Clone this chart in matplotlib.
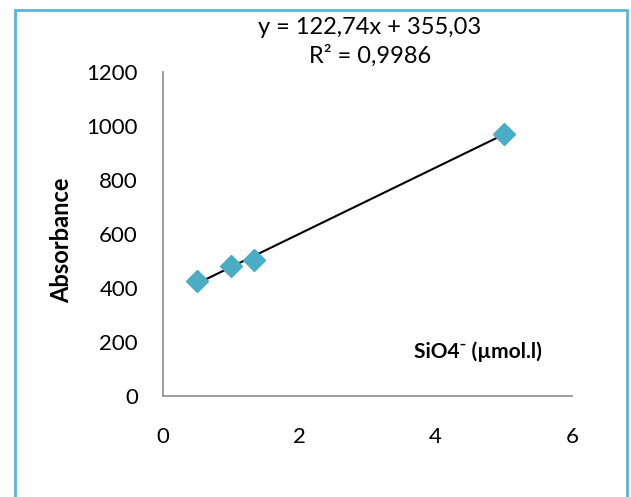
import matplotlib.pyplot as plt
import numpy as np
from matplotlib.patches import Rectangle

plt.rcParams['font.family'] = ['Lato', 'DejaVu Sans']

# data
conc = [0.5, 1.0, 1.33, 5.0]
absorb = [425, 480, 503, 970]
slope, intercept = 122.74, 355.03
xticks = [0, 2, 4, 6]
yticks = [0, 200, 400, 600, 800, 1000, 1200]

fig = plt.figure(figsize=(6.31, 4.97), dpi=100)
ax = fig.add_axes([163/631, 1 - 396/497, (572-163)/631, (396-72)/497])

# frame around the whole chart
fig.patches.append(Rectangle((15/631, -0.05), (627-15)/631, 1.05 - 10/497,
                             transform=fig.transFigure, fill=False,
                             edgecolor='#5ab4d2', linewidth=2))

fit_x = np.array([min(conc), max(conc)])
ax.plot(fit_x, slope*fit_x + intercept, color='black', lw=1.5, zorder=2)
ax.plot(conc, absorb, 'D', color='#4bacc6', markersize=11, zorder=3)

ax.set_xlim(0, 6)
ax.set_ylim(0, 1200)
ax.set_xticks(xticks)
ax.set_yticks(yticks)
ax.tick_params(length=0, labelsize=16)
ax.tick_params(axis='y', pad=18)
ax.tick_params(axis='x', pad=22)
for s in ['top', 'right']:
    ax.spines[s].set_visible(False)
for s in ['left', 'bottom']:
    ax.spines[s].set_color('#8c8c8c')
    ax.spines[s].set_linewidth(1.2)

fig.text(62/631, 1 - 240/497, 'Absorbance', rotation=90, ha='center', va='center',
         fontsize=17, fontweight='bold')
fig.text(478/631, 1 - 352/497, 'SiO4\u207b (\u00b5mol.l)', ha='center', va='center',
         fontsize=15, fontweight='bold')
fig.text(370/631, 1 - 27/497, 'y = 122,74x + 355,03', ha='center', va='center', fontsize=17)
fig.text(370/631, 1 - 56/497, 'R\u00b2 = 0,9986', ha='center', va='center', fontsize=17)

fig.savefig('out.png', dpi=100)
